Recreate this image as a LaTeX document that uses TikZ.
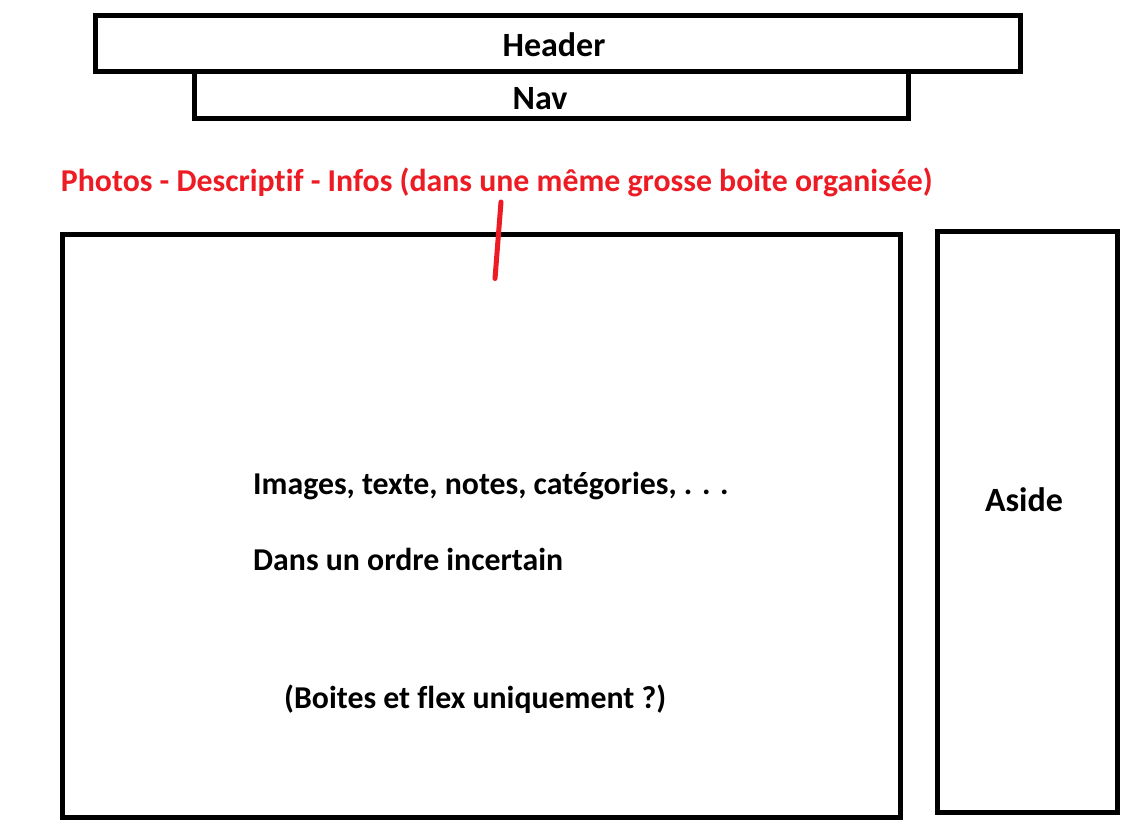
\documentclass[tikz,border=0pt]{standalone}
\usepackage{fontspec}
\setmainfont[Ligatures=CommonOff]{Carlito}
\definecolor{markred}{RGB}{237,28,36}
\begin{document}
\begin{tikzpicture}[x=1pt,y=-1pt,
  frame/.style={draw=black,line width=5pt,inner sep=0pt},
  lbl/.style={font=\fontsize{34}{40}\selectfont\bfseries,inner sep=0pt,text=black},
  bodylbl/.style={font=\fontsize{31.8}{38}\selectfont\bfseries,inner sep=0pt,text=black},
  redlbl/.style={font=\fontsize{31.8}{38}\selectfont\bfseries,inner sep=0pt,text=markred}]
\useasboundingbox[fill=white] (0,0) rectangle (1142,830);
% page blocks
\draw[frame] (95.5,15.5) rectangle (1020,71.7);
\draw[frame] (194.5,71.7) rectangle (908,118);
\draw[frame] (62.5,234.5) rectangle (900,817);
\draw[frame] (937.5,231.5) rectangle (1117.5,812.5);
% labels
\node[lbl,anchor=base] (header) at (554,56) {Header};
\node[lbl,anchor=base] (nav) at (540,109) {Nav};
\node[lbl,anchor=base] (aside) at (1024,511.7) {Aside};
\node[bodylbl,anchor=base west] (items) at (253,494.3) {Images, texte, notes, catégories, . . .};
\node[bodylbl,anchor=base west] (order) at (253,570.5) {Dans un ordre incertain};
\node[bodylbl,anchor=base west] (flex) at (284,708.3) {(Boites et flex uniquement ?)};
\node[redlbl,anchor=base west] (title) at (60.7,191.7) {Photos - Descriptif - Infos (dans une même grosse boite organisée)};
% pointer from the title into the main block
\coordinate (ptrtop) at (501,202);
\coordinate (ptrend) at (495,278.5);
\draw[markred,line width=5pt,line cap=round] (ptrtop) -- (ptrend);
\end{tikzpicture}
\end{document}
